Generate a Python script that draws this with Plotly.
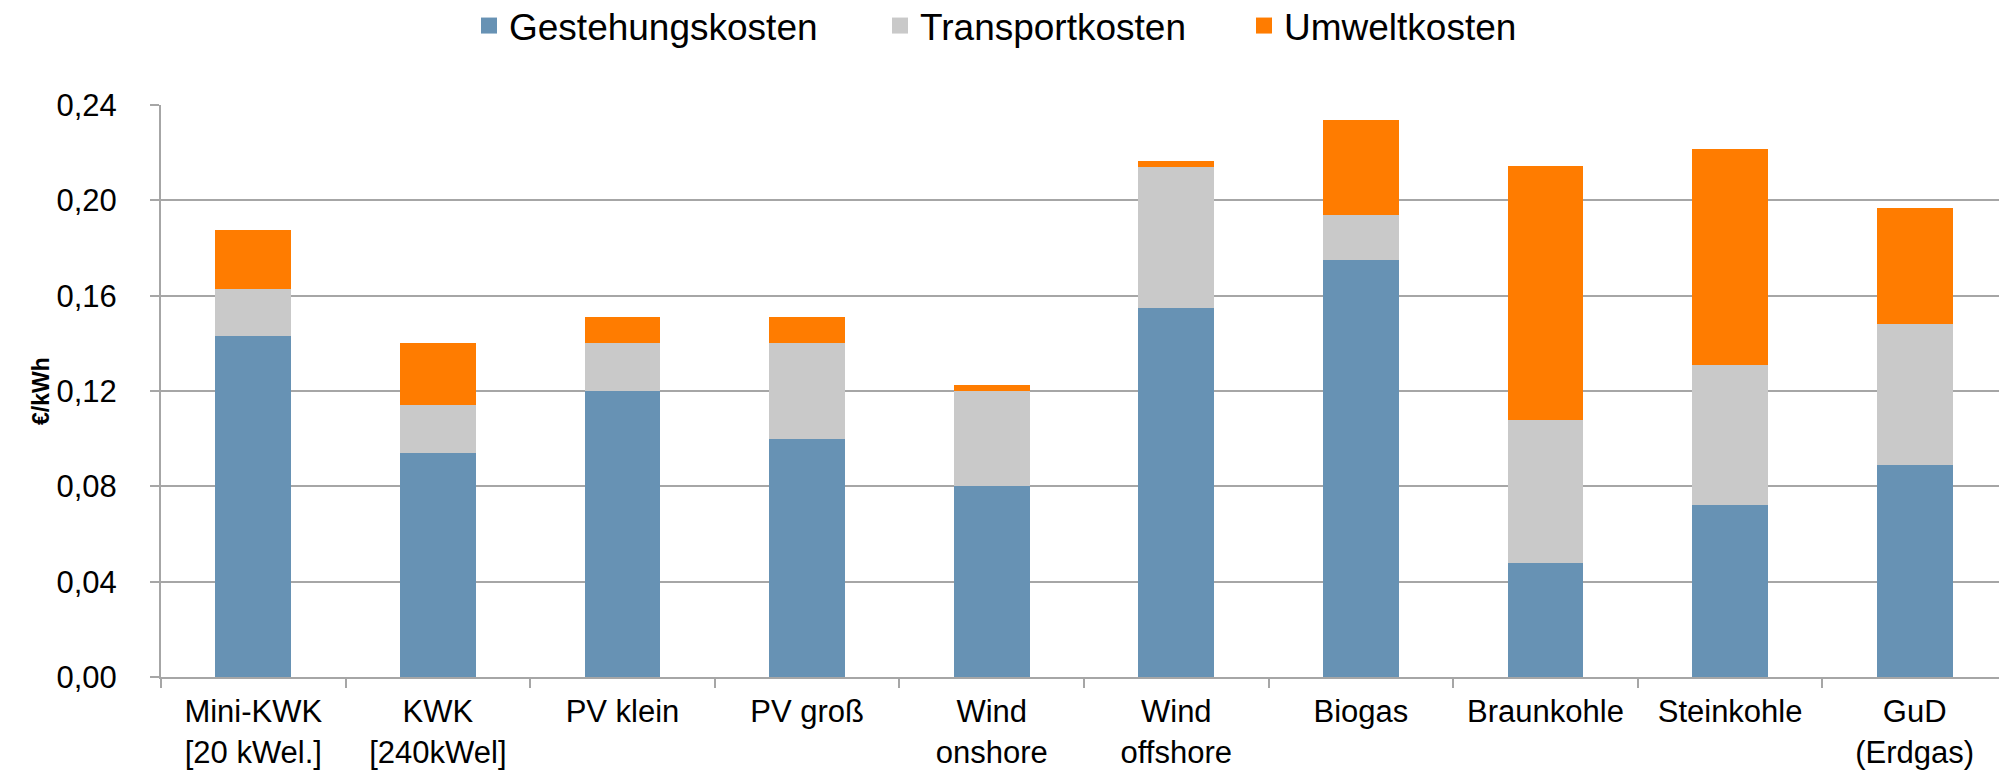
import plotly.graph_objects as go

categories = [
    "Mini-KWK<br>[20 kWel.]",
    "KWK<br>[240kWel]",
    "PV klein",
    "PV groß",
    "Wind<br>onshore",
    "Wind<br>offshore",
    "Biogas",
    "Braunkohle",
    "Steinkohle",
    "GuD<br>(Erdgas)",
]
gestehungskosten = [0.143, 0.094, 0.120, 0.100, 0.080, 0.155, 0.175, 0.048, 0.072, 0.089]
transportkosten = [0.020, 0.020, 0.020, 0.040, 0.040, 0.059, 0.019, 0.060, 0.059, 0.059]
umweltkosten = [0.0245, 0.026, 0.011, 0.011, 0.0025, 0.0026, 0.0396, 0.1065, 0.0906, 0.0487]

series = [
    ("Gestehungskosten", gestehungskosten, "#6792b4", "legend", 461),
    ("Transportkosten", transportkosten, "#c9c9c9", "legend2", 872),
    ("Umweltkosten", umweltkosten, "#ff7c00", "legend3", 1236),
]

font = "Liberation Sans, Arial, sans-serif"
axis_grey = "#a6a6a6"
W, H = 2007, 770
plot_left, plot_right = 153, 1999

fig = go.Figure()
legends = {}
for name, values, color, leg, left in series:
    fig.add_trace(
        go.Bar(x=categories, y=values, name=name, showlegend=False, marker=dict(color=color, line=dict(width=0)))
    )
    # legend entry with a bigger square than plotly's default bar swatch
    fig.add_trace(
        go.Scatter(
            x=[None],
            y=[None],
            mode="markers",
            name=name,
            legend=leg,
            marker=dict(symbol="square", size=20, color=color),
        )
    )
    legends[leg] = dict(
        orientation="h",
        xref="container",
        x=left / W,
        xanchor="left",
        yref="container",
        y=1 - 18 / H,
        yanchor="middle",
        font=dict(size=37),
    )

fig.update_layout(
    barmode="stack",
    bargap=0.59,
    width=W,
    height=H,
    plot_bgcolor="white",
    paper_bgcolor="white",
    separators=",.",
    font=dict(family=font, size=31, color="black"),
    margin=dict(l=plot_left, r=W - plot_right, t=97, b=98),
    **legends,
)

# axis title placed by hand, it sits closer to the labels than plotly would put it
fig.add_annotation(
    text="<b>€/kWh</b>",
    textangle=-90,
    xref="paper",
    yref="paper",
    x=(33 - plot_left) / (plot_right - plot_left),
    y=0.5,
    xanchor="center",
    yanchor="middle",
    showarrow=False,
    font=dict(size=23),
)

fig.update_yaxes(
    range=[0, 0.24],
    dtick=0.04,
    tickformat=".2f",
    showgrid=True,
    gridcolor=axis_grey,
    gridwidth=2,
    showline=True,
    linecolor=axis_grey,
    linewidth=2,
    ticks="outside",
    ticklen=9,
    tickcolor=axis_grey,
    tickwidth=2,
    ticklabelstandoff=27,
    zeroline=False,
)
fig.update_xaxes(
    showline=True,
    linecolor=axis_grey,
    linewidth=2,
    ticks="outside",
    tickson="boundaries",
    ticklen=9,
    tickcolor=axis_grey,
    tickwidth=2,
    ticklabelstandoff=6,
)

fig.write_html("out.html")
